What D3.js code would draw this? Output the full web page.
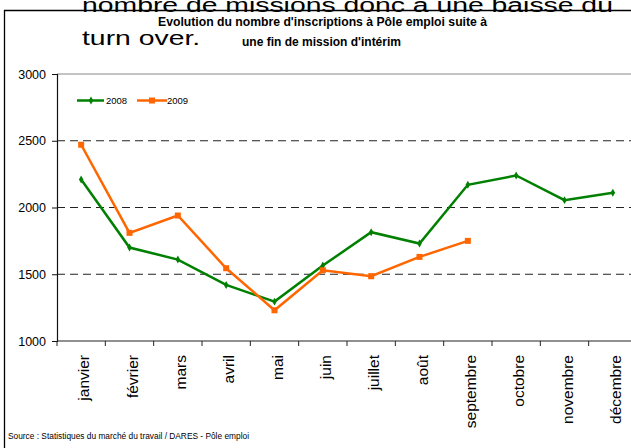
<!DOCTYPE html>
<meta charset="utf-8">
<style>

body {
  margin: 0;
  background: #fff;
}

svg text {
  font-family: "Liberation Sans", Arial, sans-serif;
}

.grid line {
  stroke: #222;
  stroke-dasharray: 8,5;
}

.serie path.line {
  fill: none;
  stroke-width: 2.5;
}

</style>
<svg width="631" height="448"></svg>
<script src="https://d3js.org/d3.v7.min.js"></script>
<script>

// mois (axe des abscisses)
var mois = ["janvier", "février", "mars", "avril", "mai", "juin",
            "juillet", "août", "septembre", "octobre", "novembre", "décembre"];

// inscriptions après une fin de mission d'intérim
var val2008 = [2210, 1700, 1610, 1420, 1295, 1565, 1815, 1730, 2170, 2240, 2055, 2110];
var val2009 = [2470, 1810, 1940, 1545, 1230, 1530, 1485, 1630, 1750];

// graduations de l'axe vertical
var yTicks = [1000, 1500, 2000, 2500, 3000];
var yGrid = [1500, 2000, 2500];

var svg = d3.select("svg");

var x = d3.scaleBand()
    .domain(mois)
    .range([57, 637]);

var y = d3.scaleLinear()
    .domain([1000, 3000])
    .range([341, 74]);

// texte de la page derrière le graphique (étiré horizontalement)
svg.append("text")
    .attr("transform", "translate(82,12) scale(1.35,1)")
    .style("font-size", "21px")
    .text("nombre de missions donc à une baisse du");

svg.append("text")
    .attr("transform", "translate(82,45) scale(1.35,1)")
    .style("font-size", "21px")
    .text("turn over.");

// cadre
svg.append("path")
    .attr("d", "M4.5,448V10.5H631")
    .attr("fill", "none")
    .attr("stroke", "#000")
    .attr("stroke-width", 1.3);

// titre
svg.append("text")
    .attr("x", 158)
    .attr("y", 25.5)
    .attr("textLength", 329)
    .attr("lengthAdjust", "spacingAndGlyphs")
    .style("font-size", "12.5px")
    .style("font-weight", "bold")
    .text("Evolution du nombre d'inscriptions à Pôle emploi suite à");

svg.append("text")
    .attr("x", 242)
    .attr("y", 45.5)
    .attr("textLength", 159)
    .attr("lengthAdjust", "spacingAndGlyphs")
    .style("font-size", "12.5px")
    .style("font-weight", "bold")
    .text("une fin de mission d'intérim");

// bord supérieur de la zone de tracé
svg.append("line")
    .attr("x1", x.range()[0]).attr("x2", 631)
    .attr("y1", y(3000)).attr("y2", y(3000))
    .attr("stroke", "#888")
    .attr("stroke-width", 1.2);

// lignes de grille en pointillés
svg.append("g")
    .attr("class", "grid")
  .selectAll("line")
  .data(yGrid)
  .enter().append("line")
    .attr("x1", x.range()[0])
    .attr("x2", 631)
    .attr("y1", function(d) { return y(d); })
    .attr("y2", function(d) { return y(d); });

// axe vertical
var yAxis = svg.append("g")
    .attr("transform", "translate(" + x.range()[0] + ",0)")
    .call(d3.axisLeft(y).tickValues(yTicks).tickSize(5).tickPadding(6).tickFormat(d3.format("d")));

yAxis.select(".domain").attr("stroke", "#111").attr("stroke-width", 1.2);
yAxis.selectAll(".tick line").attr("stroke", "#111");
yAxis.selectAll(".tick text")
    .attr("fill", "#000")
    .style("font-size", "12.5px")
    .style("font-family", "'Liberation Sans', Arial, sans-serif");

// axe horizontal
svg.append("line")
    .attr("x1", x.range()[0]).attr("x2", 631)
    .attr("y1", y(1000)).attr("y2", y(1000))
    .attr("stroke", "#222")
    .attr("stroke-width", 1.2);

var bornes = mois.map(function(m) { return x(m); }).concat([x.range()[1]]);

svg.append("g")
  .selectAll("line")
  .data(bornes)
  .enter().append("line")
    .attr("x1", function(d) { return d; })
    .attr("x2", function(d) { return d; })
    .attr("y1", y(1000))
    .attr("y2", y(1000) + 5)
    .attr("stroke", "#222");

svg.append("g")
  .selectAll("text")
  .data(mois)
  .enter().append("text")
    .attr("transform", function(d) {
      return "translate(" + (x(d) + x.bandwidth() / 2) + ",355) rotate(-90)";
    })
    .attr("dy", "8px")
    .attr("text-anchor", "end")
    .style("font-size", "15.5px")
    .text(function(d) { return d; });

// séries
var series = [
  {name: "2008", values: val2008, color: "#008000", symbol: d3.symbolDiamond, size: 18},
  {name: "2009", values: val2009, color: "#ff6600", symbol: d3.symbolSquare, size: 36}
];

var line = d3.line()
    .x(function(d, i) { return x(mois[i]) + x.bandwidth() / 2; })
    .y(function(d) { return y(d); });

var serie = svg.selectAll(".serie")
  .data(series)
  .enter().append("g")
    .attr("class", "serie");

serie.append("path")
    .attr("class", "line")
    .attr("stroke", function(d) { return d.color; })
    .attr("d", function(d) { return line(d.values); });

serie.each(function(s) {
  d3.select(this).selectAll(".pt")
    .data(s.values)
    .enter().append("path")
      .attr("class", "pt")
      .attr("fill", s.color)
      .attr("transform", function(d, i) {
        return "translate(" + (x(mois[i]) + x.bandwidth() / 2) + "," + y(d) + ")";
      })
      .attr("d", d3.symbol().type(s.symbol).size(s.size));
});

// légende
var legend = svg.selectAll(".legend")
  .data(series)
  .enter().append("g")
    .attr("class", "legend")
    .attr("transform", function(d, i) { return "translate(" + (77 + i * 60) + ",100.5)"; });

legend.append("line")
    .attr("x1", 0).attr("x2", function(d, i) { return i ? 30 : 27; })
    .attr("stroke", function(d) { return d.color; })
    .attr("stroke-width", 2.5);

legend.append("path")
    .attr("transform", function(d, i) { return "translate(" + (i ? 15 : 14) + ",0)"; })
    .attr("fill", function(d) { return d.color; })
    .attr("d", function(d) { return d3.symbol().type(d.symbol).size(d.size)(); });

legend.append("text")
    .attr("x", function(d, i) { return i ? 30 : 29; })
    .attr("dy", "0.35em")
    .style("font-size", "9.5px")
    .text(function(d) { return d.name; });

// source
svg.append("text")
    .attr("x", 8)
    .attr("y", 439)
    .attr("textLength", 241)
    .attr("lengthAdjust", "spacingAndGlyphs")
    .style("font-size", "8.5px")
    .text("Source : Statistiques du marché du travail / DARES - Pôle emploi");

</script>
